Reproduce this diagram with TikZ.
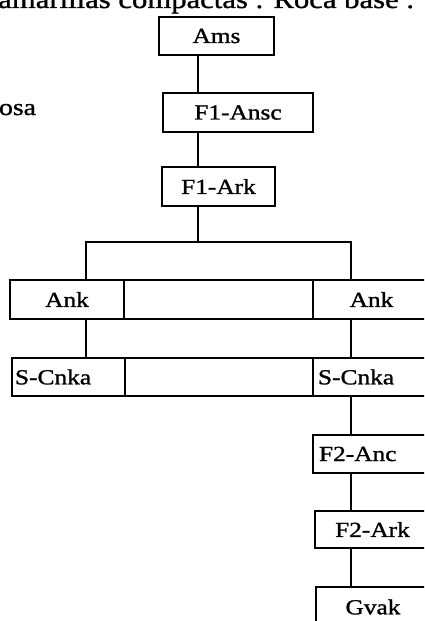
\documentclass[tikz,border=0pt]{standalone}
\usepackage{fontspec}
\setmainfont[FakeStretch=1.18, FakeBold=1.2]{Liberation Serif}
\begin{document}
\begin{tikzpicture}[x=1pt, y=-1pt, line width=2pt,
    box/.style={rectangle, draw=black, text=black, inner sep=0pt, font=\fontsize{21.5}{24}\selectfont},
    leftbox/.style={box, align=left, text width=#1}]
	\useasboundingbox (0,0) rectangle (424,621);
	\clip (0,0) rectangle (424,621);

	% Text of the page around the chart
	\node[anchor=base east, inner sep=0pt, font=\fontsize{26}{29}\selectfont] (head) at (415,8) {amarillas compactas . Roca base .};
	\node[anchor=base east, inner sep=0pt, font=\fontsize{23.5}{27}\selectfont] (side) at (37,115) {osa};

	% Define boxes with their coordinates
	\node[box, minimum width=115pt, minimum height=38pt] (ams) at (216.5,36) {Ams};
	\node[box, minimum width=150pt, minimum height=39pt] (ansc) at (238,112.5) {F1-Ansc};
	\node[box, minimum width=113pt, minimum height=39pt] (ark1) at (218.5,186.5) {F1-Ark};

	\node[box, minimum width=114pt, minimum height=39pt] (ankL) at (67,299.5) {Ank};
	\node[box, minimum width=189pt, minimum height=39pt] (gapA) at (218.5,299.5) {};
	\node[box, minimum width=117pt, minimum height=39pt] (ankR) at (371.5,299.5) {Ank};

	\node[leftbox=107pt, inner xsep=3pt, minimum height=38pt] (cnkaL) at (68.5,377) {S-Cnka};
	\node[box, minimum width=188pt, minimum height=38pt] (gapS) at (219,377) {};
	\node[leftbox=107pt, inner xsep=5pt, minimum height=38pt] (cnkaR) at (371.5,377) {S-Cnka};

	\node[leftbox=105pt, inner xsep=6pt, minimum height=38pt] (anc2) at (371.5,454) {F2-Anc};
	\node[box, minimum width=115pt, minimum height=37pt] (ark2) at (372.5,529.5) {F2-Ark};
	\node[box, minimum width=114pt, minimum height=40pt] (gvak) at (373,607) {Gvak};

	% Points where the lines branch
	\coordinate (trunk) at (198,242);
	\coordinate (splitL) at (86,242);
	\coordinate (splitR) at (351,242);

	% Draw connecting lines
	\draw (ams.south -| trunk) -- (ansc.north -| trunk);
	\draw (ansc.south -| trunk) -- (ark1.north -| trunk);
	\draw (ark1.south -| trunk) -- (trunk);
	\draw (ankL.north -| splitL) -- (splitL) -- (splitR) -- (ankR.north -| splitR);
	\draw (ankL.south -| splitL) -- (cnkaL.north -| splitL);
	\draw (ankR.south -| splitR) -- (cnkaR.north -| splitR);
	\draw (cnkaR.south -| splitR) -- (anc2.north -| splitR);
	\draw (anc2.south -| splitR) -- (ark2.north -| splitR);
	\draw (ark2.south -| splitR) -- (gvak.north -| splitR);

\end{tikzpicture}
\end{document}
